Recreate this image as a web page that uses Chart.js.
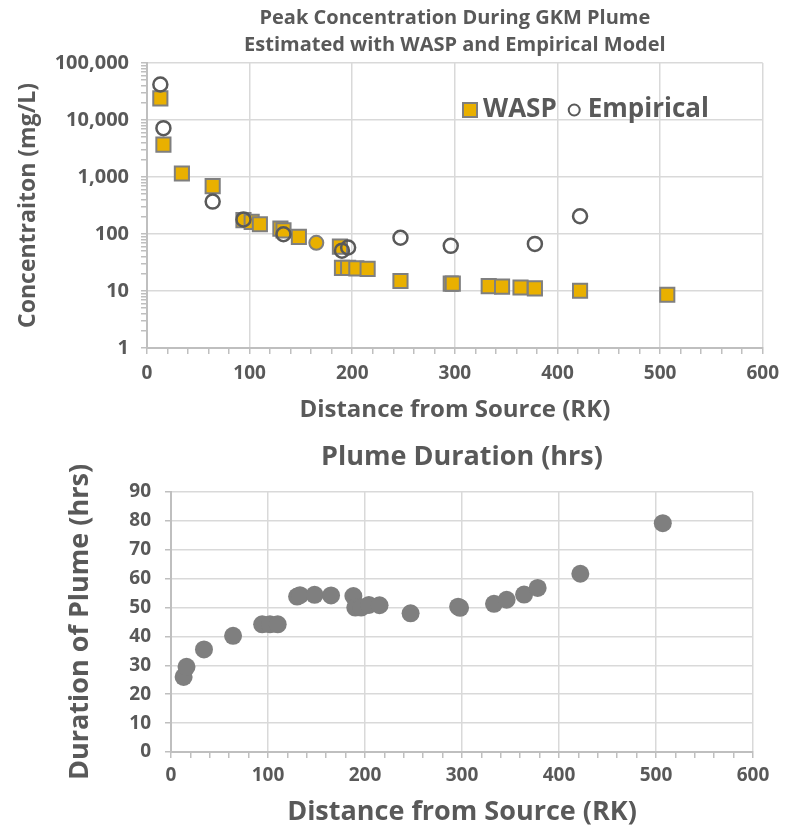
<!DOCTYPE html>
<html>
<head>
<meta charset="utf-8">
<script src="https://cdn.jsdelivr.net/npm/chart.js@4.4.1/dist/chart.umd.min.js"></script>
<style>
  body { margin: 0; background: #fff; }
  canvas { display: block; }
</style>
</head>
<body>
<canvas id="chartPeak" width="787" height="432"></canvas>
<canvas id="chartDuration" width="787" height="398"></canvas>
<script>
// distance from source (RK), shared by both charts
const distance = [13, 16, 34, 64, 94, 102, 110, 130, 133, 148, 165, 188, 190, 196, 204, 215, 247, 296, 298, 333, 346, 364, 378, 422, 507];
// peak concentration (mg/L)
const wasp = [24000, 3700, 1150, 690, 175, 163, 148, 124, 116, 89, 70, 60, 25.5, 25.5, 25, 24.5, 15, 13.5, 13.5, 12.2, 11.9, 11.5, 11.1, 10.1, 8.6];
const empirical = [42000, 7200, null, 370, 180, null, null, null, 99, null, null, null, 51, 58, null, null, 86, 62, null, null, null, null, 67, 205, null];
// plume duration (hrs)
const duration = [26, 29.5, 35.5, 40.2, 44.2, 44.2, 44.2, 53.8, 54.3, 54.4, 54.2, 54, 50, 50, 50.9, 50.8, 48, 50.3, 49.9, 51.3, 52.7, 54.5, 56.8, 61.7, 79.2];

const concTicks = [1, 10, 100, 1000, 10000, 100000];
const distTicks = [0, 100, 200, 300, 400, 500, 600];
const durTicks = [0, 10, 20, 30, 40, 50, 60, 70, 80, 90];

const TEXT = '#595959';
const GRID = '#d9d9d9';
const AXIS = '#bfbfbf';
const GOLD = '#e9b000';
const FONT = "'Open Sans'";

function puntos(ys) {
  return distance.map((d, i) => ({ x: d, y: ys[i] })).filter(p => p.y !== null);
}

// titulo centrado sobre el area del grafico
const areaTitle = {
  id: 'areaTitle',
  afterDraw(chart, args, opts) {
    const ctx = chart.ctx;
    const mid = (chart.chartArea.left + chart.chartArea.right) / 2;
    ctx.save();
    ctx.fillStyle = TEXT;
    ctx.font = 'bold ' + opts.size + 'px ' + FONT;
    ctx.textAlign = 'center';
    ctx.textBaseline = 'middle';
    opts.lines.forEach((t, i) => ctx.fillText(t, mid, opts.y + i * opts.gap));
    ctx.restore();
  }
};

// leyenda dentro del area del grafico
const boxLegend = {
  id: 'boxLegend',
  afterDraw(chart) {
    const ctx = chart.ctx;
    const a = chart.chartArea;
    let x = a.left + 316;
    const y = a.top + 47;
    ctx.save();
    ctx.font = 'bold 26px ' + FONT;
    ctx.textBaseline = 'middle';
    // WASP
    ctx.fillStyle = GOLD;
    ctx.fillRect(x, y - 7, 14, 14);
    ctx.strokeStyle = '#7f7f7f';
    ctx.lineWidth = 2;
    ctx.strokeRect(x, y - 7, 14, 14);
    x += 20;
    ctx.fillStyle = TEXT;
    ctx.fillText(chart.data.datasets[0].label, x, y);
    x += ctx.measureText(chart.data.datasets[0].label).width + 12;
    // Empirical
    ctx.beginPath();
    ctx.arc(x + 5.5, y, 5.5, 0, Math.PI * 2);
    ctx.strokeStyle = TEXT;
    ctx.stroke();
    x += 19;
    ctx.fillText(chart.data.datasets[1].label, x, y);
    ctx.restore();
  }
};

function ejeX(height, tickSize, tickPad, titleSize, titlePad) {
  return {
    type: 'linear',
    min: 0,
    max: 600,
    afterFit: s => { s.height = height; },
    ticks: {
      stepSize: 20,
      autoSkip: false,
      maxRotation: 0,
      padding: tickPad,
      color: TEXT,
      font: { family: FONT, size: tickSize, weight: 'bold' },
      callback: v => distTicks.includes(v) ? String(v) : ''
    },
    grid: {
      color: c => distTicks.includes(c.tick.value) ? GRID : 'rgba(0,0,0,0)',
      lineWidth: 1.5,
      tickColor: AXIS,
      tickLength: 6
    },
    border: { color: AXIS, width: 2 },
    title: {
      display: true,
      text: 'Distance from Source (RK)',
      color: TEXT,
      font: { family: FONT, size: titleSize, weight: 'bold' },
      padding: { top: 0, bottom: titlePad }
    }
  };
}

function grafico_concentracion() {
  const minor = [];
  concTicks.forEach(d => {
    minor.push(d);
    if (d < 100000) for (let k = 2; k < 10; k++) minor.push(d * k);
  });

  new Chart(document.getElementById('chartPeak'), {
    type: 'scatter',
    data: {
      datasets: [
        {
          label: 'WASP',
          data: puntos(wasp),
          order: 1,
          backgroundColor: GOLD,
          borderColor: '#7f7f7f',
          borderWidth: 2,
          pointStyle: c => c.dataIndex === 10 ? 'circle' : 'rect',
          pointRadius: c => c.dataIndex === 10 ? 7 : 10,
          pointHoverRadius: 10
        },
        {
          label: 'Empirical',
          data: puntos(empirical),
          order: 0,
          backgroundColor: 'rgba(0,0,0,0)',
          borderColor: TEXT,
          borderWidth: 2.5,
          pointStyle: 'circle',
          pointRadius: 7
        }
      ]
    },
    options: {
      responsive: false,
      animation: false,
      devicePixelRatio: 1,
      layout: { padding: { top: 63, right: 24, left: 0, bottom: 0 } },
      plugins: {
        legend: { display: false },
        tooltip: { enabled: false },
        areaTitle: {
          lines: ['Peak Concentration During GKM Plume', 'Estimated with WASP and Empirical Model'],
          size: 20, y: 18, gap: 27
        }
      },
      scales: {
        x: ejeX(84, 19, 8, 24, 7),
        y: {
          type: 'logarithmic',
          min: 1,
          max: 100000,
          afterFit: s => { s.width = 147; },
          afterBuildTicks: s => { s.ticks = minor.map(v => ({ value: v })); },
          ticks: {
            autoSkip: false,
            padding: 12,
            color: TEXT,
            font: { family: FONT, size: 20, weight: 'bold' },
            callback: v => concTicks.includes(v) ? v.toLocaleString('en-US') : ''
          },
          grid: {
            color: c => concTicks.includes(c.tick.value) ? GRID : 'rgba(0,0,0,0)',
            lineWidth: 1.5,
            tickColor: AXIS,
            tickLength: 6
          },
          border: { color: AXIS, width: 2 },
          title: {
            display: true,
            text: 'Concentraiton (mg/L)',
            color: TEXT,
            font: { family: FONT, size: 23, weight: 'bold' },
            padding: { top: 15, bottom: 0 }
          }
        }
      }
    },
    plugins: [areaTitle, boxLegend]
  });
}

function grafico_duracion() {
  new Chart(document.getElementById('chartDuration'), {
    type: 'scatter',
    data: {
      datasets: [
        {
          label: 'Duration',
          data: puntos(duration),
          backgroundColor: '#7f7f7f',
          borderColor: '#7f7f7f',
          borderWidth: 0,
          pointRadius: 9
        }
      ]
    },
    options: {
      responsive: false,
      animation: false,
      devicePixelRatio: 1,
      layout: { padding: { top: 60, right: 34, left: 0, bottom: 0 } },
      plugins: {
        legend: { display: false },
        tooltip: { enabled: false },
        areaTitle: { lines: ['Plume Duration (hrs)'], size: 27, y: 25, gap: 0 }
      },
      scales: {
        x: ejeX(78, 19, 6, 27, 1),
        y: {
          type: 'linear',
          min: 0,
          max: 90,
          afterFit: s => { s.width = 171; },
          afterBuildTicks: s => { s.ticks = durTicks.map(v => ({ value: v })); },
          ticks: {
            padding: 14,
            color: TEXT,
            font: { family: FONT, size: 19, weight: 'bold' }
          },
          grid: { color: GRID, lineWidth: 1.5, tickColor: AXIS, tickLength: 6 },
          border: { color: AXIS, width: 2 },
          title: {
            display: true,
            text: 'Duration of Plume (hrs)',
            color: TEXT,
            font: { family: FONT, size: 27, weight: 'bold' },
            padding: { top: 64, bottom: 0 }
          }
        }
      }
    },
    plugins: [areaTitle]
  });
}

grafico_concentracion();
grafico_duracion();
</script>
</body>
</html>
